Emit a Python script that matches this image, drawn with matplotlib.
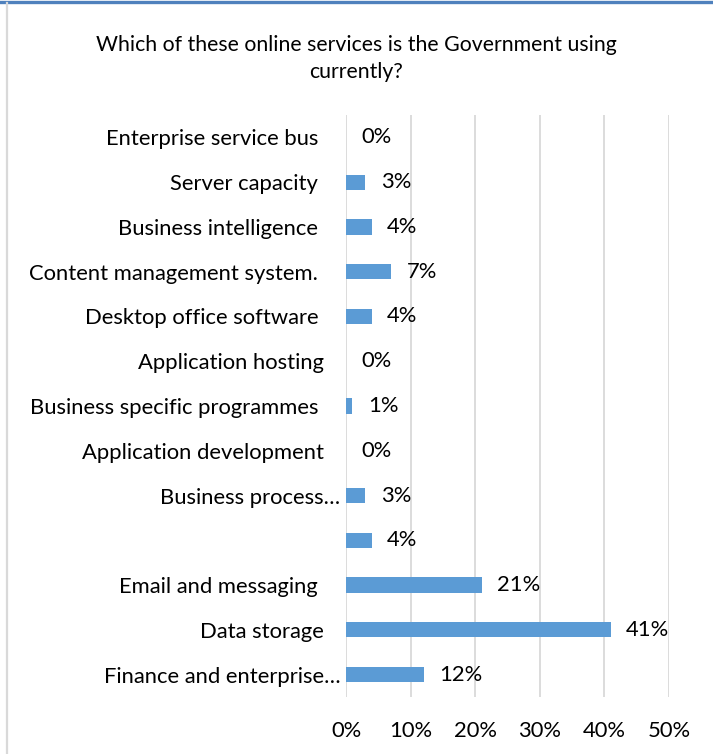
import matplotlib
matplotlib.use("Agg")
import matplotlib.pyplot as plt
import matplotlib.transforms as mtransforms
from matplotlib.lines import Line2D
from matplotlib.ticker import MultipleLocator, FuncFormatter

plt.rcParams['font.family'] = ['Lato', 'DejaVu Sans']

categories = [
    "Finance and enterprise\u2026",
    "Data storage",
    "Email and messaging",
    "",
    "Business process\u2026",
    "Application development",
    "Business specific programmes",
    "Application hosting",
    "Desktop office software",
    "Content management system.",
    "Business intelligence",
    "Server capacity",
    "Enterprise service bus",
]
values = [12, 41, 21, 4, 3, 0, 1, 0, 4, 7, 4, 3, 0]
title = "Which of these online services is the Government using\ncurrently?"

W, H = 713, 754
fs = 15.8
fig = plt.figure(figsize=(W / 100, H / 100), dpi=100)

# frame around the chart area
fig.add_artist(Line2D([0, 1], [1 - 1.5 / H, 1 - 1.5 / H], color="#4f81bd", lw=2.4,
                      transform=fig.transFigure))
fig.add_artist(Line2D([6.5 / W, 6.5 / W], [0, 1 - 3 / H], color="#d9d9d9", lw=1.6,
                      transform=fig.transFigure))

ax = fig.add_axes([346 / W, 1 - 697 / H, (669 - 346) / W, (697 - 115) / H])
y = range(len(categories))
ax.barh(y, values, height=0.34, color="#5b9bd5", zorder=3)
for yi, v in zip(y, values):
    ax.annotate(f"{v}%", (v, yi), xytext=(11, 0), textcoords="offset points",
                va="center", ha="left", fontsize=fs, color="#000000")

ax.set_xlim(0, 50)
ax.set_ylim(-0.5, len(categories) - 0.5)
ax.xaxis.set_major_locator(MultipleLocator(10))
ax.xaxis.set_major_formatter(FuncFormatter(lambda x, p: f"{x:.0f}%"))
ax.grid(axis="x", color="#d9d9d9", lw=1.3, zorder=0)
ax.set_yticks(list(y))
ax.set_yticklabels(categories, fontsize=fs)
for s in ax.spines.values():
    s.set_visible(False)
ax.tick_params(axis="both", length=0, labelsize=fs, colors="#000000")
ax.tick_params(axis="y", pad=20)
ax.tick_params(axis="x", pad=17)

# truncated / shorter labels sit a little further right
for lab in ax.get_yticklabels():
    t = lab.get_text()
    dx = 0
    if t.endswith("\u2026"):
        dx = 22
    elif t in ("Application hosting", "Application development", "Data storage"):
        dx = 6
    if dx:
        lab.set_transform(lab.get_transform() +
                          mtransforms.ScaledTranslation(dx / 100, 0, fig.dpi_scale_trans))

fig.text(0.5, 1 - 58.5 / H, title, ha="center", va="center", fontsize=15.3,
         linespacing=1.45)

fig.savefig("out.png", dpi=100, facecolor="white")
